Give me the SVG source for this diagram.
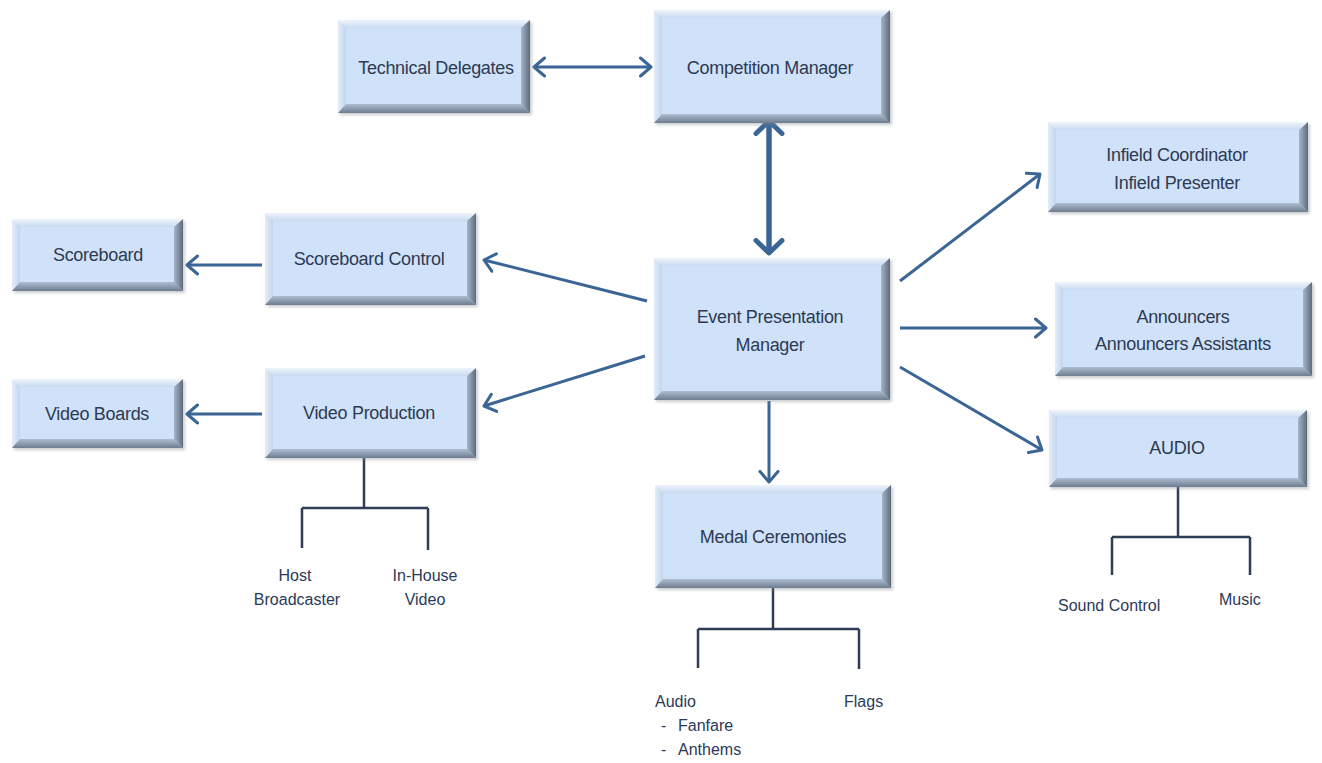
<svg xmlns="http://www.w3.org/2000/svg" width="1322" height="763" viewBox="0 0 1322 763">
<style>
.face{fill:#cfe2fa}
.bt{fill:url(#gTop)}
.bl{fill:url(#gLeft)}
.br{fill:url(#gRight)}
.bb{fill:url(#gBot)}
.sh{fill:#8a8f96;opacity:0.45;filter:url(#blur)}
.lbl{font-family:"Liberation Sans",Arial,sans-serif;font-size:18px;fill:#2e3a52;text-anchor:middle;letter-spacing:-0.3px}
.sub{font-family:"Liberation Sans",Arial,sans-serif;font-size:16px;fill:#2a3a5a}
.arr{stroke:#3b6594;stroke-width:3;fill:none;marker-end:url(#ah)}
.bi{marker-start:url(#ah)}
.thick{stroke:#3b6594;stroke-width:5.5;fill:none;marker-end:url(#ahT);marker-start:url(#ahT)}
.tree{stroke:#2f3e54;stroke-width:2.5;fill:none}
</style>
<defs>
<filter id="blur" x="-10%" y="-10%" width="120%" height="120%"><feGaussianBlur stdDeviation="1.5"/></filter>
<linearGradient id="gTop" x1="0" y1="0" x2="0" y2="1"><stop offset="0" stop-color="#eef4fc"/><stop offset="1" stop-color="#c9dbf1"/></linearGradient>
<linearGradient id="gLeft" x1="0" y1="0" x2="1" y2="0"><stop offset="0" stop-color="#e3edf9"/><stop offset="1" stop-color="#c2d5ee"/></linearGradient>
<linearGradient id="gRight" x1="0" y1="0" x2="1" y2="0"><stop offset="0" stop-color="#a5b5ca"/><stop offset="1" stop-color="#5e6b7c"/></linearGradient>
<linearGradient id="gBot" x1="0" y1="0" x2="0" y2="1"><stop offset="0" stop-color="#aebdd1"/><stop offset="1" stop-color="#6e7c90"/></linearGradient>
<marker id="ah" viewBox="0 0 14 22" refX="12" refY="11" markerWidth="14" markerHeight="22" markerUnits="userSpaceOnUse" orient="auto-start-reverse">
<path d="M1.5,2 L12,11 L1.5,20" fill="none" stroke="#3b6594" stroke-width="3" stroke-linecap="round" stroke-linejoin="round"/>
</marker>
<marker id="ahT" viewBox="0 0 18 32" refX="15" refY="16" markerWidth="18" markerHeight="32" markerUnits="userSpaceOnUse" orient="auto-start-reverse">
<path d="M2.5,3 L15,16 L2.5,29" fill="none" stroke="#3b6594" stroke-width="5" stroke-linecap="round" stroke-linejoin="round"/>
</marker>
</defs>
<rect width="1322" height="763" fill="#ffffff"/>

<g id="connectors">
<line class="arr bi" x1="534" y1="67" x2="651" y2="67"/>
<line class="thick" x1="769" y1="121" x2="769" y2="253"/>
<line class="arr" x1="647" y1="301" x2="484" y2="260"/>
<line class="arr" x1="262" y1="265" x2="187" y2="265"/>
<line class="arr" x1="645" y1="356" x2="484" y2="406"/>
<line class="arr" x1="262" y1="414" x2="187" y2="414"/>
<line class="arr" x1="900" y1="281" x2="1040" y2="174"/>
<line class="arr" x1="900" y1="328" x2="1046" y2="328"/>
<line class="arr" x1="900" y1="367" x2="1042" y2="450"/>
<line class="arr" x1="769" y1="401" x2="769" y2="482"/>
<path class="tree" d="M364,458 V508 M302,508 H428 M302,508 V548 M428,508 V550"/>
<path class="tree" d="M773,588 V629 M698,629 H859 M698,629 V668 M859,629 V669"/>
<path class="tree" d="M1178,487 V537 M1112,537 H1250 M1112,537 V575 M1250,537 V575"/>
</g>

<g id="technical-delegates">
<rect class="sh" x="340" y="22" width="192" height="93"/>
<polygon class="bt" points="338,20 530,20 522,28 346,28"/>
<polygon class="bl" points="338,20 346,28 346,105 338,113"/>
<polygon class="br" points="530,20 530,113 521,104 521,28"/>
<polygon class="bb" points="338,113 346,104 521,104 530,113"/>
<rect class="face" x="346" y="28" width="175" height="76"/>
<text class="lbl" x="436" y="74">Technical Delegates</text>
</g>

<g id="competition-manager">
<rect class="sh" x="656" y="12" width="236" height="113"/>
<polygon class="bt" points="654,10 890,10 882,18 662,18"/>
<polygon class="bl" points="654,10 662,18 662,115 654,123"/>
<polygon class="br" points="890,10 890,123 881,114 881,18"/>
<polygon class="bb" points="654,123 662,114 881,114 890,123"/>
<rect class="face" x="662" y="18" width="219" height="96"/>
<text class="lbl" x="770" y="74">Competition Manager</text>
</g>

<g id="infield">
<rect class="sh" x="1050" y="124" width="260" height="90"/>
<polygon class="bt" points="1048,122 1308,122 1300,130 1056,130"/>
<polygon class="bl" points="1048,122 1056,130 1056,204 1048,212"/>
<polygon class="br" points="1308,122 1308,212 1299,203 1299,130"/>
<polygon class="bb" points="1048,212 1056,203 1299,203 1308,212"/>
<rect class="face" x="1056" y="130" width="243" height="73"/>
<text class="lbl" x="1177" y="161">Infield Coordinator</text>
<text class="lbl" x="1177" y="189">Infield Presenter</text>
</g>

<g id="scoreboard">
<rect class="sh" x="14" y="221" width="171" height="72"/>
<polygon class="bt" points="12,219 183,219 175,227 20,227"/>
<polygon class="bl" points="12,219 20,227 20,283 12,291"/>
<polygon class="br" points="183,219 183,291 174,282 174,227"/>
<polygon class="bb" points="12,291 20,282 174,282 183,291"/>
<rect class="face" x="20" y="227" width="154" height="55"/>
<text class="lbl" x="98" y="261">Scoreboard</text>
</g>

<g id="scoreboard-control">
<rect class="sh" x="267" y="215" width="211" height="92"/>
<polygon class="bt" points="265,213 476,213 468,221 273,221"/>
<polygon class="bl" points="265,213 273,221 273,297 265,305"/>
<polygon class="br" points="476,213 476,305 467,296 467,221"/>
<polygon class="bb" points="265,305 273,296 467,296 476,305"/>
<rect class="face" x="273" y="221" width="194" height="75"/>
<text class="lbl" x="369" y="265">Scoreboard Control</text>
</g>

<g id="event-presentation-manager">
<rect class="sh" x="656" y="260" width="236" height="142"/>
<polygon class="bt" points="654,258 890,258 882,266 662,266"/>
<polygon class="bl" points="654,258 662,266 662,392 654,400"/>
<polygon class="br" points="890,258 890,400 881,391 881,266"/>
<polygon class="bb" points="654,400 662,391 881,391 890,400"/>
<rect class="face" x="662" y="266" width="219" height="125"/>
<text class="lbl" x="770" y="323">Event Presentation</text>
<text class="lbl" x="770" y="351">Manager</text>
</g>

<g id="announcers">
<rect class="sh" x="1057" y="284" width="257" height="94"/>
<polygon class="bt" points="1055,282 1312,282 1304,290 1063,290"/>
<polygon class="bl" points="1055,282 1063,290 1063,368 1055,376"/>
<polygon class="br" points="1312,282 1312,376 1303,367 1303,290"/>
<polygon class="bb" points="1055,376 1063,367 1303,367 1312,376"/>
<rect class="face" x="1063" y="290" width="240" height="77"/>
<text class="lbl" x="1183" y="323">Announcers</text>
<text class="lbl" x="1183" y="350">Announcers Assistants</text>
</g>

<g id="video-boards">
<rect class="sh" x="14" y="381" width="171" height="69"/>
<polygon class="bt" points="12,379 183,379 175,387 20,387"/>
<polygon class="bl" points="12,379 20,387 20,440 12,448"/>
<polygon class="br" points="183,379 183,448 174,439 174,387"/>
<polygon class="bb" points="12,448 20,439 174,439 183,448"/>
<rect class="face" x="20" y="387" width="154" height="52"/>
<text class="lbl" x="97" y="420">Video Boards</text>
</g>

<g id="video-production">
<rect class="sh" x="267" y="370" width="211" height="90"/>
<polygon class="bt" points="265,368 476,368 468,376 273,376"/>
<polygon class="bl" points="265,368 273,376 273,450 265,458"/>
<polygon class="br" points="476,368 476,458 467,449 467,376"/>
<polygon class="bb" points="265,458 273,449 467,449 476,458"/>
<rect class="face" x="273" y="376" width="194" height="73"/>
<text class="lbl" x="369" y="419">Video Production</text>
</g>

<g id="audio">
<rect class="sh" x="1051" y="412" width="258" height="77"/>
<polygon class="bt" points="1049,410 1307,410 1299,418 1057,418"/>
<polygon class="bl" points="1049,410 1057,418 1057,479 1049,487"/>
<polygon class="br" points="1307,410 1307,487 1298,478 1298,418"/>
<polygon class="bb" points="1049,487 1057,478 1298,478 1307,487"/>
<rect class="face" x="1057" y="418" width="241" height="60"/>
<text class="lbl" x="1177" y="454">AUDIO</text>
</g>

<g id="medal-ceremonies">
<rect class="sh" x="657" y="487" width="236" height="103"/>
<polygon class="bt" points="655,485 891,485 883,493 663,493"/>
<polygon class="bl" points="655,485 663,493 663,580 655,588"/>
<polygon class="br" points="891,485 891,588 882,579 882,493"/>
<polygon class="bb" points="655,588 663,579 882,579 891,588"/>
<rect class="face" x="663" y="493" width="219" height="86"/>
<text class="lbl" x="773" y="543">Medal Ceremonies</text>
</g>

<g id="sub-labels">
<text class="sub" x="295" y="581" text-anchor="middle">Host</text>
<text class="sub" x="297" y="605" text-anchor="middle">Broadcaster</text>
<text class="sub" x="425" y="581" text-anchor="middle">In-House</text>
<text class="sub" x="425" y="605" text-anchor="middle">Video</text>
<text class="sub" x="655" y="707">Audio</text>
<text class="sub" y="731"><tspan x="661">-</tspan><tspan x="678">Fanfare</tspan></text>
<text class="sub" y="755"><tspan x="661">-</tspan><tspan x="678">Anthems</tspan></text>
<text class="sub" x="844" y="707">Flags</text>
<text class="sub" x="1058" y="611">Sound Control</text>
<text class="sub" x="1219" y="605">Music</text>
</g>
</svg>
